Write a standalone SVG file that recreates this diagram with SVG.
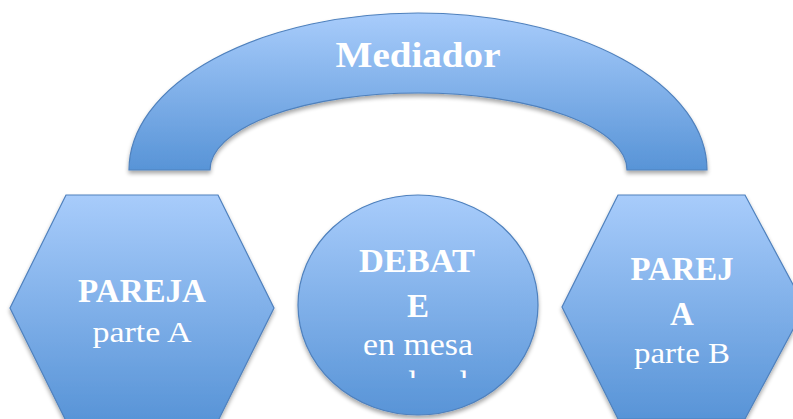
<svg xmlns="http://www.w3.org/2000/svg" width="793" height="419" viewBox="0 0 793 419">
<defs>
<linearGradient id="g" x1="0" y1="0" x2="0" y2="1">
<stop offset="0" stop-color="#a8ccfb"/>
<stop offset="1" stop-color="#5894d7"/>
</linearGradient>
<filter id="sh" x="-10%" y="-10%" width="120%" height="130%">
<feGaussianBlur in="SourceAlpha" stdDeviation="2"/>
<feOffset dx="0" dy="3" result="b"/>
<feComponentTransfer><feFuncA type="linear" slope="0.35"/></feComponentTransfer>
<feMerge><feMergeNode/><feMergeNode in="SourceGraphic"/></feMerge>
</filter>
<clipPath id="cc"><rect x="300" y="190" width="240" height="188"/></clipPath>
</defs>
<style>
.shape{fill:url(#g);stroke:#4f81bd;stroke-width:1.2;filter:url(#sh)}
.b{font-family:"Liberation Serif","DejaVu Serif",serif;font-weight:bold;fill:#fff;text-anchor:middle}
.r{font-family:"Liberation Serif","DejaVu Serif",serif;fill:#fff;text-anchor:middle}
</style>
<g id="mediador">
<path class="shape" d="M129,170 A289,157 0 0 1 707,170 L627,170 A208.5,77 0 0 0 210,170 Z"/>
<text class="b" x="418" y="67" font-size="36" textLength="165" lengthAdjust="spacingAndGlyphs">Mediador</text>
</g>
<g id="pareja-a">
<polygon class="shape" points="10,308 66,195 218,195 274,308 218,421 66,421"/>
<text class="b" x="142" y="302" font-size="33" textLength="128" lengthAdjust="spacingAndGlyphs">PAREJA</text>
<text class="r" x="142" y="342" font-size="30" textLength="99" lengthAdjust="spacingAndGlyphs">parte A</text>
</g>
<g id="debate">
<ellipse class="shape" cx="418" cy="305" rx="120" ry="110"/>
<text class="b" x="417" y="272" font-size="33" textLength="116" lengthAdjust="spacingAndGlyphs">DEBAT</text>
<text class="b" x="418" y="317" font-size="33">E</text>
<text class="r" x="418" y="355" font-size="31" textLength="110" lengthAdjust="spacingAndGlyphs">en mesa</text>
<g clip-path="url(#cc)"><text class="r" x="428" y="393" font-size="31" textLength="110" lengthAdjust="spacingAndGlyphs">redonda</text></g>
</g>
<g id="pareja-b">
<polygon class="shape" points="562,307 618,195 745,195 805,307 745,419 618,419"/>
<text class="b" x="682" y="280" font-size="33" textLength="103" lengthAdjust="spacingAndGlyphs">PAREJ</text>
<text class="b" x="682" y="325" font-size="33">A</text>
<text class="r" x="682" y="363" font-size="30" textLength="96" lengthAdjust="spacingAndGlyphs">parte B</text>
</g>
<g id="connectors"/>
</svg>
